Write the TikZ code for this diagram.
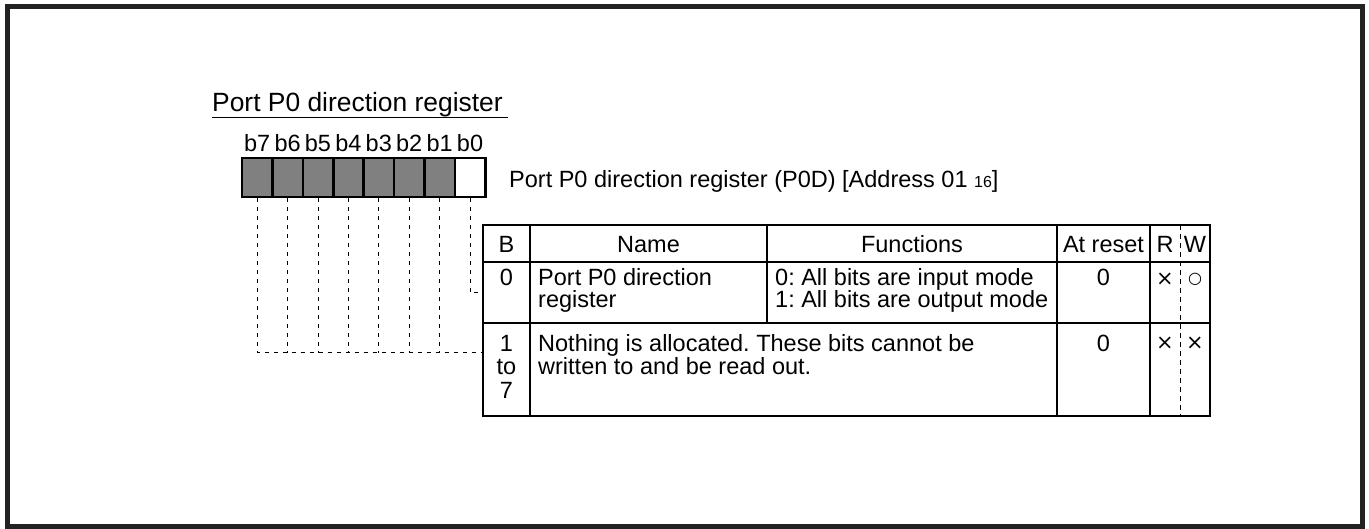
\documentclass[tikz,border=0pt]{standalone}
\usepackage{fontspec}
\setmainfont{Liberation Sans}
\newfontfamily\symfont{DejaVu Sans}
\frenchspacing
\begin{document}
\begin{tikzpicture}[x=1pt,y=-1pt,
  txt/.style={inner sep=0pt,anchor=base,font=\fontsize{23.5}{23.5}\selectfont},
  txtw/.style={txt,anchor=base west},
  bitcell/.style={draw,line width=2.6pt,fill=gray50,minimum width=30.4pt,minimum height=39pt,inner sep=0pt},
  tline/.style={line width=2.2pt},
  conn/.style={line width=1pt,dash pattern=on 4pt off 5pt},
  rwsym/.style={inner sep=0pt,anchor=center,font=\symfont\fontsize{21}{21}\selectfont}]
\definecolor{gray50}{HTML}{808080}
\definecolor{frame}{HTML}{222222}
\useasboundingbox (0,0) rectangle (1369,529);
\draw[frame,line width=5pt] (7,7) rectangle (1362.5,526);
% title
\node[txtw,font=\fontsize{26.4}{26.4}\selectfont] (title) at (212,111.7) {Port P0 direction register};
\draw[line width=1.5pt] (212,117.5) -- (508,117.5);
% bits
\foreach \i/\lab in {0/b7,1/b6,2/b5,3/b4,4/b3,5/b2,6/b1,7/b0}{
  \pgfmathsetmacro\cx{242+30.4*(\i+0.5)}
  \node[txt] (l\lab) at (\cx,151.7) {\lab};
}
\foreach \i/\n in {0/7,1/6,2/5,3/4,4/3,5/2,6/1}{
  \pgfmathsetmacro\cx{242+30.4*(\i+0.5)}
  \node[bitcell] (c\n) at (\cx,177.5) {};
}
\node[bitcell,fill=white] (c0) at ({242+30.4*7.5},177.5) {};
\node[txtw] (desc) at (509,187.3) {Port P0 direction register (P0D) [Address 01 {\fontsize{16}{16}\selectfont 16}]};
% table
\node[draw,tline,minimum width=727pt,minimum height=191pt,inner sep=0pt] (tab) at (846.5,320.5) {};
\draw[tline] (483,262) -- (1210,262);
\draw[tline] (483,323) -- (1210,323);
\draw[tline] (530,225) -- (530,416);
\draw[tline] (767,225) -- (767,323);
\draw[tline] (1057,225) -- (1057,416);
\draw[tline] (1150,225) -- (1150,416);
\draw[line width=1pt,dash pattern=on 5pt off 4pt] (1180,225) -- (1180,416);
% header
\node[txt] (hB) at (506.5,252.7) {B};
\node[txt] (hName) at (648.5,252.7) {Name};
\node[txt] (hFun) at (912,252.7) {Functions};
\node[txt] (hRes) at (1103.5,252.7) {At reset};
\node[txt] (hR) at (1165,252.7) {R};
\node[txt] (hW) at (1195,252.7) {W};
% row 0
\node[txt] (r0b) at (506.5,285.7) {0};
\node[txtw] (r0n1) at (538,285.7) {Port P0 direction};
\node[txtw] (r0n2) at (538,307.3) {register};
\node[txtw] (r0f1) at (775,285.7) {0: All bits are input mode};
\node[txtw] (r0f2) at (775,307.3) {1: All bits are output mode};
\node[txt] (r0r) at (1103.5,285.7) {0};
\node[rwsym] (r0R) at (1165,279.5) {×};
\node[rwsym,font=\symfont\fontsize{16}{16}\selectfont] (r0W) at (1195,279.5) {○};
% row 1-7
\node[txt] (r1b1) at (506.5,351.7) {1};
\node[txt] (r1b2) at (506.5,375) {to};
\node[txt] (r1b3) at (506.5,398.3) {7};
\node[txtw] (r1n1) at (538,351.7) {Nothing is allocated. These bits cannot be};
\node[txtw] (r1n2) at (538,375) {written to and be read out.};
\node[txt] (r1r) at (1103.5,351.7) {0};
\node[rwsym] (r1R) at (1165,343) {×};
\node[rwsym] (r1W) at (1195,343) {×};
% connectors
\coordinate (j0) at (tab.west |- 0,293);
\coordinate (j17) at (tab.west |- 0,353);
\draw[conn] (c0.south) |- (j0);
\draw[conn] (c7.south) |- (j17);
\foreach \n in {6,5,4,3,2,1}{
  \draw[conn] (c\n.south) -- (c\n.south |- j17);
}
\end{tikzpicture}
\end{document}
